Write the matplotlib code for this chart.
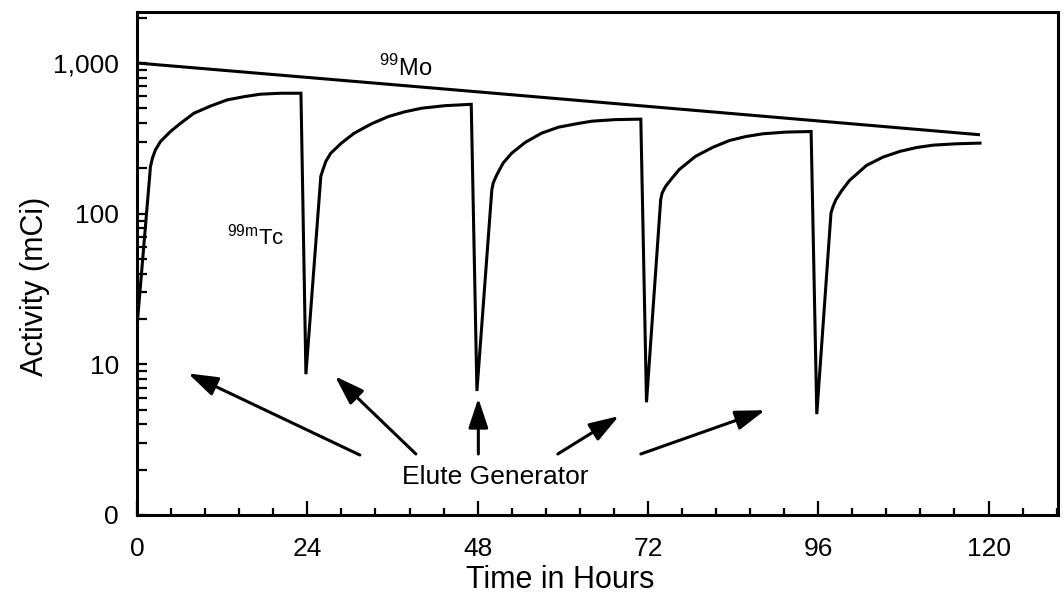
"""99Mo / 99mTc generator: activity vs time (log scale)"""

import matplotlib

matplotlib.use("Agg")
import matplotlib.pyplot as plt
from matplotlib.ticker import FixedLocator, LogLocator, MultipleLocator, NullFormatter

plt.rcParams["font.family"] = ["Liberation Sans", "DejaVu Sans"]

# ── data ──
mo_hours = [0, 45.3, 118.8]
mo_mci = [1000, 660, 334]

# Tc ingrowth after each elution (hours, mCi)
tc1_hours = [0, 1.89, 2.17, 2.59, 3.3, 4.71, 6.13, 8.01, 10.4, 12.7, 15.1, 17.4, 20.3, 23.1]
tc1_mci = [17.9, 205, 234, 265, 301, 351, 398, 464, 519, 569, 598, 621, 630, 630]
tc2_hours = [25.9, 26.2, 26.6, 27.3, 28.8, 30.6, 33.0, 35.4, 37.7, 40.1, 43.4, 47.1]
tc2_mci = [177, 196, 222, 252, 294, 342, 394, 441, 474, 501, 521, 532]
tc3_hours = [50.0, 50.2, 50.7, 51.6, 52.8, 54.7, 57.0, 59.4, 61.8, 64.1, 67.4, 71.0]
tc3_mci = [144, 160, 181, 217, 252, 297, 342, 375, 394, 411, 421, 424]
tc4_hours = [73.8, 74.0, 74.5, 75.4, 76.4, 78.7, 81.1, 83.5, 85.8, 88.2, 91.5, 95.0]
tc4_mci = [124, 137, 152, 172, 196, 240, 275, 306, 325, 339, 348, 351]
tc5_hours = [97.8, 98.1, 98.5, 99.3, 100.4, 102.8, 105.1, 107.5, 109.9, 112.2, 115.5, 118.8]
tc5_mci = [101, 112, 124, 142, 166, 209, 237, 259, 275, 285, 291, 294]

# activity left right after each elution
elution_hours = [23.8, 47.9, 71.8, 95.8]
trough_mci = [8.6, 6.65, 5.6, 4.67]

# arrow heads / tails for "Elute Generator"
arrow_head_t = [7.2, 27.9, 48.1, 67.9, 88.5]
arrow_head_a = [8.7, 8.33, 5.95, 4.53, 4.96]
arrow_tail_t = [31.4, 39.3, 48.1, 59.3, 71.0]
arrow_tail_a = [2.5, 2.54, 2.54, 2.54, 2.54]

x_ticks = [0, 24, 48, 72, 96, 120]
y_ticks = [1, 10, 100, 1000]
y_tick_labels = ["0", "10", "100", "1,000"]

# build one continuous Tc line
cycles_t = [tc1_hours, tc2_hours, tc3_hours, tc4_hours, tc5_hours]
cycles_a = [tc1_mci, tc2_mci, tc3_mci, tc4_mci, tc5_mci]
tc_t, tc_a = [], []
for i, (ct, ca) in enumerate(zip(cycles_t, cycles_a)):
    tc_t += ct
    tc_a += ca
    if i < len(elution_hours):
        tc_t.append(elution_hours[i])
        tc_a.append(trough_mci[i])

fig = plt.figure(figsize=(10.64, 6.04), dpi=100)
ax = fig.add_axes([0.1288, 0.1474, 0.8656, 0.8327])

ax.plot(mo_hours, mo_mci, color="black", lw=2.2, solid_capstyle="butt")
ax.plot(tc_t, tc_a, color="black", lw=2.2, solid_joinstyle="miter")

ax.set_yscale("log")
ax.set_xlim(0, 129.8)
ax.set_ylim(1, 2180)

ax.xaxis.set_major_locator(FixedLocator(x_ticks))
ax.xaxis.set_minor_locator(MultipleLocator(4.8))
ax.yaxis.set_major_locator(FixedLocator(y_ticks))
ax.set_yticklabels(y_tick_labels)
ax.yaxis.set_minor_locator(LogLocator(base=10, subs=range(2, 10)))
ax.yaxis.set_minor_formatter(NullFormatter())

ax.tick_params(axis="both", which="both", direction="in", color="black")
ax.tick_params(axis="x", which="major", length=10, width=1.6, labelsize=19, pad=16)
ax.tick_params(axis="x", which="minor", length=5, width=1.6)
ax.tick_params(axis="y", which="major", length=7, width=1.6, labelsize=19, pad=13)
ax.tick_params(axis="y", which="minor", length=7, width=1.6)

for sp in ax.spines.values():
    sp.set_linewidth(2.2)

ax.set_xlabel("Time in Hours", fontsize=22)
ax.set_ylabel("Activity (mCi)", fontsize=22)
ax.xaxis.set_label_coords(0.459, -0.1)
ax.yaxis.set_label_coords(-0.094, 0.455)

ax.text(37.9, 927, r"$^{\mathregular{99}}$Mo", fontsize=17, ha="center", va="center")
ax.text(16.7, 70, r"$^{\mathregular{99m}}$Tc", fontsize=16, ha="center", va="center")

ax.text(50.5, 1.79, "Elute Generator", fontsize=19, ha="center", va="center")
for ht, ha_, tt, ta in zip(arrow_head_t, arrow_head_a, arrow_tail_t, arrow_tail_a):
    ax.annotate(
        "",
        xy=(ht, ha_),
        xytext=(tt, ta),
        arrowprops=dict(
            arrowstyle="-|>,head_length=0.9,head_width=0.3",
            mutation_scale=20,
            lw=2.2,
            color="black",
            shrinkA=0,
            shrinkB=0,
        ),
    )

fig.savefig("out.png", dpi=100, facecolor="white")
plt.close()
